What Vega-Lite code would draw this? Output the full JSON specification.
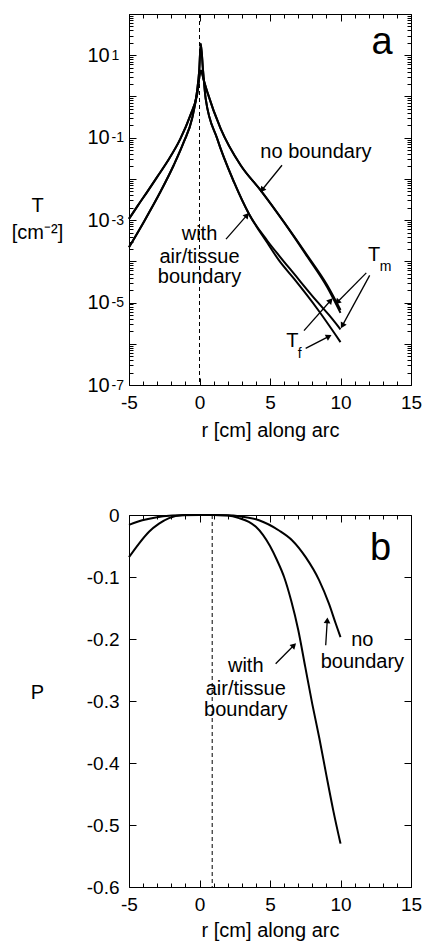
{
  "$schema": "https://vega.github.io/schema/vega-lite/v6.json",
  "padding": {"left": 10, "top": 3, "right": 0, "bottom": 0},
  "bounds": "flush",
  "spacing": 130,
  "config": {
    "font": "Liberation Sans",
    "view": {"stroke": "black", "strokeWidth": 1},
    "axis": {"grid": false, "domain": false, "tickColor": "black", "labelColor": "black", "titleColor": "black", "labelFont": "Liberation Sans", "titleFont": "Liberation Sans", "titleFontWeight": "normal", "labelFlush": false, "labelOverlap": false, "labelBound": false, "tickWidth": 1}
  },
  "datasets": {
    "tcurves": [
      {"curve": "nb_m", "r": -5, "T": 1.07e-3}, {"curve": "nb_m", "r": -4.4, "T": 2.19e-3}, {"curve": "nb_m", "r": -3.72, "T": 4.79e-3}, {"curve": "nb_m", "r": -3, "T": 1.12e-2}, {"curve": "nb_m", "r": -2.3, "T": 2.57e-2}, {"curve": "nb_m", "r": -1.36, "T": 9.33e-2}, {"curve": "nb_m", "r": -0.65, "T": 0.347}, {"curve": "nb_m", "r": -0.18, "T": 1.07}, {"curve": "nb_m", "r": 0.1, "T": 4.27}, {"curve": "nb_m", "r": 0.3, "T": 2.5}, {"curve": "nb_m", "r": 0.55, "T": 1.29}, {"curve": "nb_m", "r": 1.5, "T": 0.166}, {"curve": "nb_m", "r": 2.92, "T": 2.14e-2}, {"curve": "nb_m", "r": 4.34, "T": 5.25e-3}, {"curve": "nb_m", "r": 5.99, "T": 8.91e-4}, {"curve": "nb_m", "r": 7.65, "T": 1.38e-4}, {"curve": "nb_m", "r": 9.06, "T": 2.63e-5}, {"curve": "nb_m", "r": 10, "T": 6.61e-6},
      {"curve": "nb_f", "r": -5, "T": 1.07e-3}, {"curve": "nb_f", "r": -4.4, "T": 2.19e-3}, {"curve": "nb_f", "r": -3.72, "T": 4.79e-3}, {"curve": "nb_f", "r": -3, "T": 1.12e-2}, {"curve": "nb_f", "r": -2.3, "T": 2.57e-2}, {"curve": "nb_f", "r": -1.36, "T": 9.33e-2}, {"curve": "nb_f", "r": -0.65, "T": 0.347}, {"curve": "nb_f", "r": -0.18, "T": 1.07}, {"curve": "nb_f", "r": 0.1, "T": 4.27}, {"curve": "nb_f", "r": 0.3, "T": 2.5}, {"curve": "nb_f", "r": 0.55, "T": 1.29}, {"curve": "nb_f", "r": 1.5, "T": 0.166}, {"curve": "nb_f", "r": 2.92, "T": 2.14e-2}, {"curve": "nb_f", "r": 4.34, "T": 5.25e-3}, {"curve": "nb_f", "r": 5.99, "T": 8.91e-4}, {"curve": "nb_f", "r": 7.65, "T": 1.29e-4}, {"curve": "nb_f", "r": 9.06, "T": 2.34e-5}, {"curve": "nb_f", "r": 10, "T": 5.62e-6},
      {"curve": "wb_f", "r": -5, "T": 2.19e-4}, {"curve": "wb_f", "r": -3.96, "T": 8.91e-4}, {"curve": "wb_f", "r": -2.78, "T": 4.79e-3}, {"curve": "wb_f", "r": -1.83, "T": 2.14e-2}, {"curve": "wb_f", "r": -1.12, "T": 7.76e-2}, {"curve": "wb_f", "r": -0.53, "T": 0.288}, {"curve": "wb_f", "r": -0.18, "T": 1.29}, {"curve": "wb_f", "r": -0.02, "T": 4.27}, {"curve": "wb_f", "r": 0.09, "T": 19.1}, {"curve": "wb_f", "r": 0.25, "T": 4.27}, {"curve": "wb_f", "r": 0.44, "T": 0.871}, {"curve": "wb_f", "r": 1.26, "T": 9.33e-2}, {"curve": "wb_f", "r": 2.45, "T": 8.32e-3}, {"curve": "wb_f", "r": 3.51, "T": 1.41e-3}, {"curve": "wb_f", "r": 4.81, "T": 2.82e-4}, {"curve": "wb_f", "r": 5.64, "T": 1.05e-4}, {"curve": "wb_f", "r": 6.7, "T": 3.8e-5}, {"curve": "wb_f", "r": 8.35, "T": 7.08e-6}, {"curve": "wb_f", "r": 9.18, "T": 2.82e-6}, {"curve": "wb_f", "r": 10, "T": 1.1e-6},
      {"curve": "wb_m", "r": -5, "T": 2.19e-4}, {"curve": "wb_m", "r": -3.96, "T": 8.91e-4}, {"curve": "wb_m", "r": -2.78, "T": 4.79e-3}, {"curve": "wb_m", "r": -1.83, "T": 2.14e-2}, {"curve": "wb_m", "r": -1.12, "T": 7.76e-2}, {"curve": "wb_m", "r": -0.53, "T": 0.288}, {"curve": "wb_m", "r": -0.18, "T": 1.29}, {"curve": "wb_m", "r": -0.02, "T": 4.27}, {"curve": "wb_m", "r": 0.09, "T": 19.1}, {"curve": "wb_m", "r": 0.25, "T": 4.27}, {"curve": "wb_m", "r": 0.44, "T": 0.871}, {"curve": "wb_m", "r": 1.26, "T": 9.33e-2}, {"curve": "wb_m", "r": 2.45, "T": 8.32e-3}, {"curve": "wb_m", "r": 3.51, "T": 1.41e-3}, {"curve": "wb_m", "r": 4.81, "T": 3.16e-4}, {"curve": "wb_m", "r": 5.64, "T": 1.38e-4}, {"curve": "wb_m", "r": 6.7, "T": 5.01e-5}, {"curve": "wb_m", "r": 8.35, "T": 1.05e-5}, {"curve": "wb_m", "r": 9.18, "T": 5.01e-6}, {"curve": "wb_m", "r": 10, "T": 2.24e-6}
    ],
    "pcurves": [
      {"curve": "nb", "r": -5, "P": -0.016}, {"curve": "nb", "r": -4.06, "P": -0.0085}, {"curve": "nb", "r": -3.11, "P": -0.004}, {"curve": "nb", "r": -1.93, "P": -0.001}, {"curve": "nb", "r": -1, "P": 0}, {"curve": "nb", "r": 0, "P": 0}, {"curve": "nb", "r": 1, "P": 0}, {"curve": "nb", "r": 2, "P": -0.0005}, {"curve": "nb", "r": 2.8, "P": -0.002}, {"curve": "nb", "r": 4.22, "P": -0.0085}, {"curve": "nb", "r": 5.64, "P": -0.025}, {"curve": "nb", "r": 6.58, "P": -0.041}, {"curve": "nb", "r": 7.53, "P": -0.068}, {"curve": "nb", "r": 8.48, "P": -0.105}, {"curve": "nb", "r": 9.18, "P": -0.143}, {"curve": "nb", "r": 9.66, "P": -0.175}, {"curve": "nb", "r": 10, "P": -0.197},
      {"curve": "wb", "r": -5, "P": -0.068}, {"curve": "wb", "r": -4.29, "P": -0.046}, {"curve": "wb", "r": -3.58, "P": -0.027}, {"curve": "wb", "r": -2.87, "P": -0.014}, {"curve": "wb", "r": -2.16, "P": -0.005}, {"curve": "wb", "r": -1.22, "P": -0.0005}, {"curve": "wb", "r": 0, "P": 0}, {"curve": "wb", "r": 1, "P": 0}, {"curve": "wb", "r": 2, "P": -0.001}, {"curve": "wb", "r": 2.8, "P": -0.005}, {"curve": "wb", "r": 3.5, "P": -0.011}, {"curve": "wb", "r": 4, "P": -0.019}, {"curve": "wb", "r": 4.5, "P": -0.032}, {"curve": "wb", "r": 5, "P": -0.05}, {"curve": "wb", "r": 5.5, "P": -0.073}, {"curve": "wb", "r": 6, "P": -0.1}, {"curve": "wb", "r": 6.5, "P": -0.138}, {"curve": "wb", "r": 7, "P": -0.185}, {"curve": "wb", "r": 7.5, "P": -0.245}, {"curve": "wb", "r": 8, "P": -0.305}, {"curve": "wb", "r": 8.5, "P": -0.36}, {"curve": "wb", "r": 9, "P": -0.42}, {"curve": "wb", "r": 9.5, "P": -0.478}, {"curve": "wb", "r": 10, "P": -0.53}
    ],
    "ttext": [
      {"r": 8.26, "T": 0.0447, "text": "no boundary"},
      {"r": 0, "T": 4.57e-4, "text": "with"},
      {"r": 0, "T": 1.26e-4, "text": "air/tissue"},
      {"r": 0, "T": 4.17e-5, "text": "boundary"},
      {"r": 12.38, "T": 1.41e-4, "text": "T"},
      {"r": 6.58, "T": 1.2e-6, "text": "T"}
    ],
    "tsub": [
      {"r": 13.2, "T": 7.24e-5, "text": "m"},
      {"r": 7.11, "T": 5.62e-7, "text": "f"}
    ],
    "tbig": [{"r": 12.94, "T": 10.7, "text": "a"}],
    "tarrows": [
      {"r": 5.85, "T": 0.0214, "r2": 4.43, "T2": 5.37e-3, "angle": 219},
      {"r": 1.88, "T": 3.47e-4, "r2": 3.37, "T2": 1.32e-3, "angle": 41},
      {"r": 11.83, "T": 5.25e-5, "r2": 9.77, "T2": 1.02e-5, "angle": 225},
      {"r": 12.07, "T": 4.57e-5, "r2": 10.13, "T2": 2.75e-6, "angle": 209},
      {"r": 7.41, "T": 2.09e-6, "r2": 9.3, "T2": 1.12e-5, "angle": 42},
      {"r": 7.53, "T": 7.76e-7, "r2": 9.18, "T2": 1.51e-6, "angle": 63}
    ],
    "ptext": [
      {"r": 3.28, "P": -0.243, "text": "with"},
      {"r": 3.28, "P": -0.28, "text": "air/tissue"},
      {"r": 3.28, "P": -0.315, "text": "boundary"},
      {"r": 11.55, "P": -0.202, "text": "no"},
      {"r": 11.55, "P": -0.237, "text": "boundary"}
    ],
    "pbig": [{"r": 12.85, "P": -0.0726, "text": "b"}],
    "parrows": [
      {"r": 5.4, "P": -0.24, "r2": 6.7, "P2": -0.21, "angle": 45},
      {"r": 8.95, "P": -0.21, "r2": 9.06, "P2": -0.17, "angle": 4}
    ]
  },
  "vconcat": [
    {
      "width": 282,
      "height": 371,
      "resolve": {"axis": {"x": "independent", "y": "independent"}},
      "layer": [
        {
          "data": {"name": "tcurves"},
          "mark": {"type": "line", "color": "black", "strokeWidth": 2, "interpolate": "monotone"},
          "encoding": {
            "x": {"field": "r", "type": "quantitative", "scale": {"domain": [-5, 15], "nice": false, "zero": false},
              "axis": {"orient": "bottom", "values": [-5, 0, 5, 10, 15], "tickSize": -7, "labelFontSize": 19, "labelPadding": 15, "labelExpr": "replace(datum.label, '−', '-')", "title": "r [cm] along arc", "titleFontSize": 20, "titlePadding": 8}},
            "y": {"field": "T", "type": "quantitative", "scale": {"type": "log", "domain": [1e-7, 100], "nice": false},
              "axis": {"orient": "left", "values": [1e-7, 1e-6, 1e-5, 1e-4, 1e-3, 1e-2, 0.1, 1, 10, 100], "tickSize": -7, "labelFontSize": 20, "labelAlign": "left", "labelBaseline": "middle", "labelPadding": 49, "labelExpr": "indexof([1, -1, -3, -5, -7], round(log(datum.value) / LN10)) >= 0 ? '10' : ''", "title": ["T", "[cm⁻²]"], "titleAngle": 0, "titleAlign": "center", "titleBaseline": "middle", "titleX": -92, "titleY": 191, "titleFontSize": 20, "titleLineHeight": 27}},
            "detail": {"field": "curve"}
          }
        },
        {
          "data": {"name": "tcurves"},
          "mark": {"type": "point", "opacity": 0},
          "encoding": {
            "x": {"field": "r", "type": "quantitative", "scale": {"domain": [-5, 15], "nice": false, "zero": false}, "axis": null},
            "y": {"field": "T", "type": "quantitative", "scale": {"type": "log", "domain": [1e-7, 100], "nice": false},
              "axis": {"orient": "left", "values": [1e-7, 1e-5, 1e-3, 0.1, 10], "ticks": false, "labelFontSize": 14, "labelAlign": "left", "labelBaseline": "middle", "labelPadding": 18, "labelDy": -9, "labelExpr": "'' + round(log(datum.value) / LN10)", "title": null}}
          }
        },
        {
          "data": {"name": "tcurves"},
          "mark": {"type": "point", "opacity": 0},
          "encoding": {
            "x": {"field": "r", "type": "quantitative", "scale": {"domain": [-5, 15], "nice": false, "zero": false},
              "axis": {"orient": "top", "values": [-5, 0, 5, 10, 15], "tickSize": -7, "labels": false, "title": null}},
            "y": {"field": "T", "type": "quantitative", "scale": {"type": "log", "domain": [1e-7, 100], "nice": false},
              "axis": {"orient": "right", "values": [1e-7, 1e-6, 1e-5, 1e-4, 1e-3, 1e-2, 0.1, 1, 10, 100], "tickSize": -7, "labels": false, "title": null}}
          }
        },
        {
          "data": {"name": "tcurves"},
          "mark": {"type": "point", "opacity": 0},
          "encoding": {
            "x": {"field": "r", "type": "quantitative", "scale": {"domain": [-5, 15], "nice": false, "zero": false},
              "axis": {"orient": "bottom", "values": [-4, -3, -2, -1, 1, 2, 3, 4, 6, 7, 8, 9, 11, 12, 13, 14], "tickSize": -4, "labels": false, "title": null}},
            "y": {"field": "T", "type": "quantitative", "scale": {"type": "log", "domain": [1e-7, 100], "nice": false},
              "axis": {"orient": "left", "values": [2e-7, 3e-7, 4e-7, 5e-7, 6e-7, 7e-7, 8e-7, 9e-7, 2e-6, 3e-6, 4e-6, 5e-6, 6e-6, 7e-6, 8e-6, 9e-6, 2e-5, 3e-5, 4e-5, 5e-5, 6e-5, 7e-5, 8e-5, 9e-5, 2e-4, 3e-4, 4e-4, 5e-4, 6e-4, 7e-4, 8e-4, 9e-4, 0.002, 0.003, 0.004, 0.005, 0.006, 0.007, 0.008, 0.009, 0.02, 0.03, 0.04, 0.05, 0.06, 0.07, 0.08, 0.09, 0.2, 0.3, 0.4, 0.5, 0.6, 0.7, 0.8, 0.9, 2, 3, 4, 5, 6, 7, 8, 9, 20, 30, 40, 50, 60, 70, 80, 90], "tickSize": -4, "labels": false, "title": null}}
          }
        },
        {
          "data": {"name": "tcurves"},
          "mark": {"type": "point", "opacity": 0},
          "encoding": {
            "x": {"field": "r", "type": "quantitative", "scale": {"domain": [-5, 15], "nice": false, "zero": false},
              "axis": {"orient": "top", "values": [-4, -3, -2, -1, 1, 2, 3, 4, 6, 7, 8, 9, 11, 12, 13, 14], "tickSize": -4, "labels": false, "title": null}},
            "y": {"field": "T", "type": "quantitative", "scale": {"type": "log", "domain": [1e-7, 100], "nice": false},
              "axis": {"orient": "right", "values": [2e-7, 3e-7, 4e-7, 5e-7, 6e-7, 7e-7, 8e-7, 9e-7, 2e-6, 3e-6, 4e-6, 5e-6, 6e-6, 7e-6, 8e-6, 9e-6, 2e-5, 3e-5, 4e-5, 5e-5, 6e-5, 7e-5, 8e-5, 9e-5, 2e-4, 3e-4, 4e-4, 5e-4, 6e-4, 7e-4, 8e-4, 9e-4, 0.002, 0.003, 0.004, 0.005, 0.006, 0.007, 0.008, 0.009, 0.02, 0.03, 0.04, 0.05, 0.06, 0.07, 0.08, 0.09, 0.2, 0.3, 0.4, 0.5, 0.6, 0.7, 0.8, 0.9, 2, 3, 4, 5, 6, 7, 8, 9, 20, 30, 40, 50, 60, 70, 80, 90], "tickSize": -4, "labels": false, "title": null}}
          }
        },
        {
          "data": {"values": [{"r": 0}]},
          "mark": {"type": "rule", "color": "black", "strokeWidth": 1, "strokeDash": [4, 3]},
          "encoding": {
            "x": {"field": "r", "type": "quantitative", "scale": {"domain": [-5, 15], "nice": false, "zero": false}, "axis": null}
          }
        },
        {
          "data": {"name": "tarrows"},
          "mark": {"type": "rule", "color": "black", "strokeWidth": 1.3},
          "encoding": {
            "x": {"field": "r", "type": "quantitative", "scale": {"domain": [-5, 15], "nice": false, "zero": false}, "axis": null},
            "y": {"field": "T", "type": "quantitative", "scale": {"type": "log", "domain": [1e-7, 100], "nice": false}, "axis": null},
            "x2": {"field": "r2"},
            "y2": {"field": "T2"}
          }
        },
        {
          "data": {"name": "tarrows"},
          "mark": {"type": "point", "shape": "triangle-up", "filled": true, "color": "black", "opacity": 1, "size": 45},
          "encoding": {
            "x": {"field": "r2", "type": "quantitative", "scale": {"domain": [-5, 15], "nice": false, "zero": false}, "axis": null},
            "y": {"field": "T2", "type": "quantitative", "scale": {"type": "log", "domain": [1e-7, 100], "nice": false}, "axis": null},
            "angle": {"field": "angle", "type": "quantitative", "scale": null}
          }
        },
        {
          "data": {"name": "ttext"},
          "mark": {"type": "text", "fontSize": 20, "align": "center", "baseline": "middle", "color": "black"},
          "encoding": {
            "x": {"field": "r", "type": "quantitative", "scale": {"domain": [-5, 15], "nice": false, "zero": false}, "axis": null},
            "y": {"field": "T", "type": "quantitative", "scale": {"type": "log", "domain": [1e-7, 100], "nice": false}, "axis": null},
            "text": {"field": "text"}
          }
        },
        {
          "data": {"name": "tsub"},
          "mark": {"type": "text", "fontSize": 14, "align": "center", "baseline": "middle", "color": "black"},
          "encoding": {
            "x": {"field": "r", "type": "quantitative", "scale": {"domain": [-5, 15], "nice": false, "zero": false}, "axis": null},
            "y": {"field": "T", "type": "quantitative", "scale": {"type": "log", "domain": [1e-7, 100], "nice": false}, "axis": null},
            "text": {"field": "text"}
          }
        },
        {
          "data": {"name": "tbig"},
          "mark": {"type": "text", "fontSize": 38, "align": "center", "baseline": "alphabetic", "color": "black"},
          "encoding": {
            "x": {"field": "r", "type": "quantitative", "scale": {"domain": [-5, 15], "nice": false, "zero": false}, "axis": null},
            "y": {"field": "T", "type": "quantitative", "scale": {"type": "log", "domain": [1e-7, 100], "nice": false}, "axis": null},
            "text": {"field": "text"}
          }
        }
      ]
    },
    {
      "width": 282,
      "height": 372,
      "resolve": {"axis": {"x": "independent", "y": "independent"}},
      "layer": [
        {
          "data": {"name": "pcurves"},
          "mark": {"type": "line", "color": "black", "strokeWidth": 2, "interpolate": "monotone"},
          "encoding": {
            "x": {"field": "r", "type": "quantitative", "scale": {"domain": [-5, 15], "nice": false, "zero": false},
              "axis": {"orient": "bottom", "values": [-5, 0, 5, 10, 15], "tickSize": -7, "labelFontSize": 19, "labelPadding": 15, "labelExpr": "replace(datum.label, '−', '-')", "title": "r [cm] along arc", "titleFontSize": 20, "titlePadding": 6}},
            "y": {"field": "P", "type": "quantitative", "scale": {"domain": [-0.6, 0], "nice": false, "zero": false},
              "axis": {"orient": "left", "values": [-0.6, -0.5, -0.4, -0.3, -0.2, -0.1, 0], "tickSize": -7, "labelFontSize": 19, "labelBaseline": "middle", "labelPadding": 17, "labelExpr": "replace(format(datum.value, '~g'), '−', '-')", "title": "P", "titleAngle": 0, "titleAlign": "center", "titleBaseline": "middle", "titleX": -92, "titleY": 177, "titleFontSize": 20}},
            "detail": {"field": "curve"}
          }
        },
        {
          "data": {"name": "pcurves"},
          "mark": {"type": "point", "opacity": 0},
          "encoding": {
            "x": {"field": "r", "type": "quantitative", "scale": {"domain": [-5, 15], "nice": false, "zero": false},
              "axis": {"orient": "top", "values": [-5, 0, 5, 10, 15], "tickSize": -7, "labels": false, "title": null}},
            "y": {"field": "P", "type": "quantitative", "scale": {"domain": [-0.6, 0], "nice": false, "zero": false},
              "axis": {"orient": "right", "values": [-0.6, -0.5, -0.4, -0.3, -0.2, -0.1, 0], "tickSize": -7, "labels": false, "title": null}}
          }
        },
        {
          "data": {"name": "pcurves"},
          "mark": {"type": "point", "opacity": 0},
          "encoding": {
            "x": {"field": "r", "type": "quantitative", "scale": {"domain": [-5, 15], "nice": false, "zero": false},
              "axis": {"orient": "bottom", "values": [-4, -3, -2, -1, 1, 2, 3, 4, 6, 7, 8, 9, 11, 12, 13, 14], "tickSize": -4, "labels": false, "title": null}},
            "y": {"field": "P", "type": "quantitative", "scale": {"domain": [-0.6, 0], "nice": false, "zero": false}, "axis": null}
          }
        },
        {
          "data": {"name": "pcurves"},
          "mark": {"type": "point", "opacity": 0},
          "encoding": {
            "x": {"field": "r", "type": "quantitative", "scale": {"domain": [-5, 15], "nice": false, "zero": false},
              "axis": {"orient": "top", "values": [-4, -3, -2, -1, 1, 2, 3, 4, 6, 7, 8, 9, 11, 12, 13, 14], "tickSize": -4, "labels": false, "title": null}},
            "y": {"field": "P", "type": "quantitative", "scale": {"domain": [-0.6, 0], "nice": false, "zero": false}, "axis": null}
          }
        },
        {
          "data": {"values": [{"r": 0.9}]},
          "mark": {"type": "rule", "color": "black", "strokeWidth": 1, "strokeDash": [4, 3]},
          "encoding": {
            "x": {"field": "r", "type": "quantitative", "scale": {"domain": [-5, 15], "nice": false, "zero": false}, "axis": null}
          }
        },
        {
          "data": {"name": "parrows"},
          "mark": {"type": "rule", "color": "black", "strokeWidth": 1.3},
          "encoding": {
            "x": {"field": "r", "type": "quantitative", "scale": {"domain": [-5, 15], "nice": false, "zero": false}, "axis": null},
            "y": {"field": "P", "type": "quantitative", "scale": {"domain": [-0.6, 0], "nice": false, "zero": false}, "axis": null},
            "x2": {"field": "r2"},
            "y2": {"field": "P2"}
          }
        },
        {
          "data": {"name": "parrows"},
          "mark": {"type": "point", "shape": "triangle-up", "filled": true, "color": "black", "opacity": 1, "size": 45},
          "encoding": {
            "x": {"field": "r2", "type": "quantitative", "scale": {"domain": [-5, 15], "nice": false, "zero": false}, "axis": null},
            "y": {"field": "P2", "type": "quantitative", "scale": {"domain": [-0.6, 0], "nice": false, "zero": false}, "axis": null},
            "angle": {"field": "angle", "type": "quantitative", "scale": null}
          }
        },
        {
          "data": {"name": "ptext"},
          "mark": {"type": "text", "fontSize": 20, "align": "center", "baseline": "middle", "color": "black"},
          "encoding": {
            "x": {"field": "r", "type": "quantitative", "scale": {"domain": [-5, 15], "nice": false, "zero": false}, "axis": null},
            "y": {"field": "P", "type": "quantitative", "scale": {"domain": [-0.6, 0], "nice": false, "zero": false}, "axis": null},
            "text": {"field": "text"}
          }
        },
        {
          "data": {"name": "pbig"},
          "mark": {"type": "text", "fontSize": 38, "align": "center", "baseline": "alphabetic", "color": "black"},
          "encoding": {
            "x": {"field": "r", "type": "quantitative", "scale": {"domain": [-5, 15], "nice": false, "zero": false}, "axis": null},
            "y": {"field": "P", "type": "quantitative", "scale": {"domain": [-0.6, 0], "nice": false, "zero": false}, "axis": null},
            "text": {"field": "text"}
          }
        }
      ]
    }
  ]
}
